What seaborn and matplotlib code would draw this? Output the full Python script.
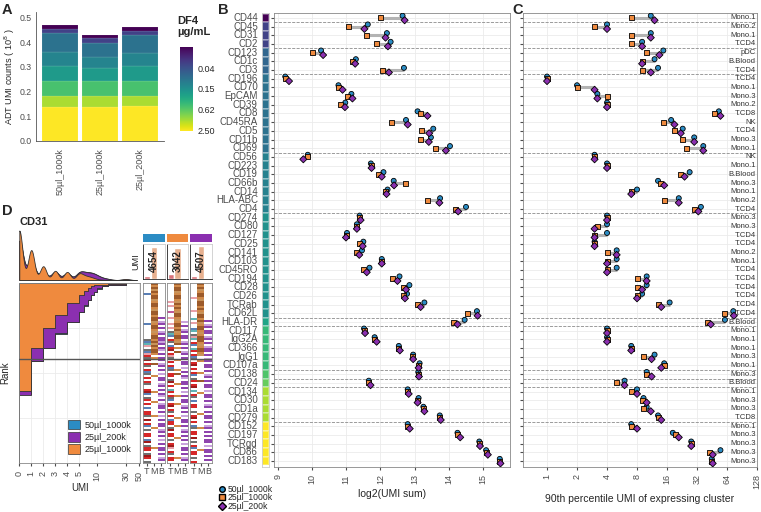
import numpy as np
import pandas as pd
import matplotlib
matplotlib.use("Agg")
import matplotlib.pyplot as plt
import seaborn as sns
from matplotlib.colors import LogNorm, ListedColormap
from matplotlib.lines import Line2D
from matplotlib.patches import Patch
from matplotlib.cm import ScalarMappable

# %%
# data
samples = ['50µl_1000k', '25µl_1000k', '25µl_200k']
sample_colors = {'50µl_1000k': '#2b8cc4', '25µl_1000k': '#ef8a3e', '25µl_200k': '#8b2fb0'}
sample_markers = {'50µl_1000k': 'o', '25µl_1000k': 's', '25µl_200k': 'D'}

# A: ADT UMI counts (1e8) per DF4 concentration, bottom to top
conc_levels = [2.5, 1.25, 0.5, 0.2, 0.12, 0.08, 0.03, 0.01]
umi_50ul_1000k = [0.138, 0.043, 0.062, 0.060, 0.055, 0.077, 0.017, 0.016]
umi_25ul_1000k = [0.138, 0.043, 0.062, 0.050, 0.045, 0.057, 0.020, 0.013]
umi_25ul_200k = [0.140, 0.041, 0.062, 0.058, 0.055, 0.072, 0.017, 0.017]

# B / C
markers = ['CD44', 'CD45', 'CD31', 'CD2', 'CD123', 'CD1c', 'CD3', 'CD196', 'CD70', 'EpCAM',
           'CD39', 'CD8', 'CD45RA', 'CD5', 'CD11b', 'CD69', 'CD56', 'CD223', 'CD19', 'CD66b',
           'CD14', 'HLA-ABC', 'CD4', 'CD274', 'CD80', 'CD127', 'CD25', 'CD141', 'CD103', 'CD45RO',
           'CD194', 'CD28', 'CD26', 'TCRab', 'CD62L', 'HLA-DR', 'CD117', 'IgG2A', 'CD366', 'IgG1',
           'CD107a', 'CD138', 'CD24', 'CD134', 'CD30', 'CD1a', 'CD279', 'CD152', 'CD197', 'TCRgd',
           'CD86', 'CD183']
marker_conc = [0.01, 0.03, 0.03, 0.03, 0.06, 0.06, 0.06, 0.08, 0.08, 0.08,
               0.08, 0.08, 0.08, 0.08, 0.08, 0.08, 0.11, 0.11, 0.11, 0.11,
               0.11, 0.11, 0.11, 0.16, 0.16, 0.16, 0.16, 0.16, 0.16, 0.16,
               0.16, 0.16, 0.16, 0.16, 0.16, 0.25, 0.4, 0.4, 0.4, 0.4,
               0.4, 0.55, 0.7, 1.25, 1.25, 1.25, 1.25, 2.5, 2.5, 2.5,
               2.5, 2.5]
log2_sum_50ul_1000k = [12.65, 11.63, 12.19, 12.30, 10.26, 11.28, 12.69, 9.21, 10.77, 11.15,
                       10.97, 13.09, 12.75, 13.55, 13.48, 14.04, 9.87, 11.72, 12.09, 12.39,
                       12.21, 13.75, 14.51, 11.39, 11.31, 11.02, 11.50, 11.46, 12.04, 11.68,
                       12.56, 12.85, 12.78, 13.29, 14.83, 14.47, 11.52, 11.83, 12.54, 12.96,
                       13.15, 13.11, 11.66, 12.80, 13.12, 13.26, 13.74, 12.80, 14.26, 14.90,
                       15.10, 15.50]
log2_sum_25ul_1000k = [12.01, 11.06, 11.58, 11.89, 10.01, 11.17, 12.05, 9.21, 10.76, 11.03,
                       10.84, 13.17, 12.32, 13.20, 13.18, 13.62, 9.87, 11.73, 11.93, 12.74,
                       12.15, 13.38, 14.21, 11.38, 11.30, 11.01, 11.39, 11.31, 12.03, 11.50,
                       12.36, 12.69, 12.68, 13.10, 14.56, 14.15, 11.53, 11.83, 12.54, 12.93,
                       13.11, 13.12, 11.66, 12.79, 13.08, 13.26, 13.74, 12.79, 14.26, 14.90,
                       15.10, 15.48]
log2_sum_25ul_200k = [12.71, 11.53, 12.15, 12.22, 10.32, 11.26, 12.25, 9.32, 10.89, 11.18,
                      10.96, 13.38, 12.80, 13.43, 13.42, 13.92, 9.74, 11.74, 12.04, 12.40,
                      12.18, 13.73, 14.28, 11.42, 11.31, 10.99, 11.48, 11.38, 12.04, 11.60,
                      12.50, 12.75, 12.72, 13.18, 14.85, 14.26, 11.55, 11.89, 12.57, 12.96,
                      13.12, 13.13, 11.71, 12.83, 13.09, 13.29, 13.77, 12.86, 14.34, 14.92,
                      15.15, 15.52]
p90_50ul_1000k = [11, 4, 11, 9, 14.7, 12, 13, 1, 2, 3.2,
                  4, 53, 17.6, 23, 30, 37, 3, 4, 27, 13,
                  8, 21, 35, 4, 4, 4, 3, 5, 5, 5,
                  10, 10, 9, 17, 74, 61, 4, 4, 7, 12,
                  15, 10, 6, 8, 9.3, 10, 13, 7, 18.3, 28,
                  55, 45]
p90_25ul_1000k = [7, 3, 7, 7, 10, 9, 9, 1, 2, 4,
                  4, 48, 14.7, 19, 23, 25, 3, 4, 22, 13.7,
                  7, 15, 30, 4, 3.2, 3, 3, 4, 4, 4,
                  8, 8, 8, 13, 60, 41, 4, 4, 7, 9.3,
                  15, 10, 5, 7, 9, 9.3, 13, 7, 19.6, 28,
                  43, 45]
p90_25ul_200k = [12, 4, 11, 9, 13.4, 9, 11, 1, 3, 3.2,
                 4, 55, 19, 22, 30, 37, 3, 4, 24, 15,
                 7, 21, 33, 4, 3, 3, 3, 5, 4, 4,
                 10, 9, 8, 14, 75, 44, 4, 4, 7, 11.2,
                 14, 11.2, 6, 8, 10, 11, 14, 8, 21, 28,
                 46, 46]
clusters = ['Mono.1', 'Mono.2', 'Mono.1', 'T.CD4', 'pDC', 'B.Blood', 'T.CD4', 'T.CD4', 'Mono.1', 'Mono.3',
            'Mono.2', 'T.CD8', 'NK', 'T.CD4', 'Mono.3', 'Mono.1', 'NK', 'Mono.1', 'B.Blood', 'Mono.3',
            'Mono.1', 'Mono.2', 'T.CD4', 'Mono.3', 'Mono.3', 'T.CD4', 'T.CD4', 'Mono.2', 'Mono.1', 'T.CD4',
            'T.CD4', 'T.CD4', 'T.CD4', 'T.CD4', 'T.CD4', 'B.Blood', 'Mono.1', 'Mono.1', 'Mono.1', 'Mono.3',
            'Mono.1', 'Mono.3', 'B.Blood', 'Mono.1', 'Mono.3', 'Mono.3', 'T.CD8', 'Mono.1', 'Mono.3', 'Mono.3',
            'Mono.3', 'Mono.3']

# D: CD31, number of cells with UMI >= step
umi_steps = [1, 2, 3, 4, 5, 6, 7, 8, 9, 10, 12, 15, 20]
cells_50ul_1000k = [618, 432, 358, 282, 218, 160, 125, 95, 66, 48, 29, 15, 7]
cells_25ul_1000k = [602, 361, 250, 176, 111, 65, 43, 28, 17, 12, 9, 7, 6]
cells_25ul_200k = [624, 432, 358, 278, 213, 158, 120, 93, 65, 47, 28, 15, 7]
max_umi = 30
n_cells = 1000
expr_rank = 420
total_umi = [4654, 3042, 4507]
lineages = ['T', 'M', 'B']
share_50ul_1000k = [0.10, 0.92, 0.02]
share_25ul_1000k = [0.14, 0.90, 0.03]
share_25ul_200k = [0.09, 0.94, 0.03]
# per cell (ranked) cluster code for each lineage column, '.' = not that lineage
cells_hm_50ul_1000k = [
    ".....b..............b.......gbcp.gbprgR.rg.rbg.r.rg..rRb.gr.r.b.rrg.R.rb.g.rr.bR.grr.gRr.g",
    "nonynonnyonnoynnonnyonnoyonnonynonno.o..n.....o.......o....o......o.....o.........o.......",
    ".................u.lu.u.lu.uulu.ul.u.uu.lu.u.l.uu.lu.u.ul.u.luu.u.l.u.uu.lu.u.l.u.uu.u.lu",
]
cells_hm_25ul_1000k = [
    ".........p.p..m..p..p.p.gcb.rg.brR.rpg.r.rbg.rr.gR.r.cr.rgb.rR.rg.r.brr.gR.rr.g.rRp.rg.rr.",
    "nonnyonnoynonoynnoyonnonyonnoyn.o.n...o....o.n....o.....o...o......o...o.....o.........o..",
    "...................l.u.lu.uu.lu.u.lu.u.uu.l.u.ul.uu.u.l.u.uu.lu.u.l.uu.u.lu.u.u.l.uu.u.lu",
]
cells_hm_25ul_200k = [
    ".......p.....p...c.p..bc.gpc.rb.cr.rbg.rR.r.rb.gr.rR.c.rg.b.rr.g.rR.r.bg.rr.R.g.rb.rr.g.r",
    "nonyonnoynnonoynnonyonnoyonnnoyonnoy..o.....o...n.....o.........o......o..........o......",
    "..................u.lu.uu.lu.u.luu.u.lu.uu.u.lu.u.uu.l.uu.u.lu.u.uu.u.lu.u.u.uu.l.uu.u.u.",
]
hm_palette = {'r': '#d62728', 'R': '#9e1b1b', 'p': '#e8a0a8', 'g': '#707070', 'b': '#5a7fb5',
              'c': '#5fb3b3', 'm': '#c05a9a', 'n': '#9c5a2a', 'o': '#d08a4a', 'y': '#c8935a',
              'u': '#8e44ad', 'l': '#c9a3dc'}

# %%
sns.set_style("white")
plt.rcParams['font.family'] = ['Liberation Sans', 'DejaVu Sans']
plt.rcParams['axes.linewidth'] = 0.6

W, H = 761, 512


def box(x0, y0, x1, y1):
    return [x0 / W, 1 - y1 / H, (x1 - x0) / W, (y1 - y0) / H]


fig = plt.figure(figsize=(W / 100, H / 100), dpi=100)
tick_grey = '#4d4d4d'
frame_grey = '#888888'
cmap = plt.get_cmap('viridis')
norm = LogNorm(vmin=0.01, vmax=2.5)

# ---- A: stacked bars
axA = fig.add_axes(box(36, 12.4, 164, 140.7))
stack = pd.DataFrame({'50µl_1000k': umi_50ul_1000k, '25µl_1000k': umi_25ul_1000k,
                      '25µl_200k': umi_25ul_200k}, index=conc_levels)
bottom = np.zeros(len(samples))
for lvl, row in stack.iterrows():
    axA.bar(samples, row.values, bottom=bottom, width=0.9, color=cmap(norm(lvl)),
            edgecolor=(1, 1, 1, 0.25), linewidth=0.3)
    bottom += row.values
axA.set_xlim(-0.6, 2.6)
axA.set_ylim(0, 0.52)
axA.set_yticks([0, 0.1, 0.2, 0.3, 0.4, 0.5])
axA.set_ylabel('ADT UMI counts ( 10$^8$ )', fontsize=6.6)
axA.yaxis.set_label_coords(-0.15, 0.5)
axA.tick_params(axis='x', rotation=90, labelsize=6.5, colors=tick_grey, length=2)
axA.tick_params(axis='y', labelsize=6.3, colors=tick_grey, length=2, pad=1)
for side in ['top', 'right']:
    axA.spines[side].set_visible(False)
for side in ['left', 'bottom']:
    axA.spines[side].set_color('#555555')

axCb = fig.add_axes(box(180, 47, 193, 131))
cb = fig.colorbar(ScalarMappable(norm=norm, cmap=cmap), cax=axCb)
cb.minorticks_off()
cb.set_ticks([0.04, 0.15, 0.62, 2.5])
cb.set_ticklabels(['0.04', '0.15', '0.62', '2.50'])
cb.outline.set_visible(False)
axCb.invert_yaxis()
axCb.tick_params(labelsize=6.5, length=3, color='white', direction='in', pad=3)
fig.text(177 / W, 1 - 16 / H, 'DF4\nµg/mL', fontsize=8, fontweight='bold', va='top', linespacing=1.1)

# ---- B / C
rows = np.arange(len(markers))
dodge = {'50µl_1000k': -0.25, '25µl_1000k': 0.0, '25µl_200k': 0.27}
sums = {'50µl_1000k': log2_sum_50ul_1000k, '25µl_1000k': log2_sum_25ul_1000k,
        '25µl_200k': log2_sum_25ul_200k}
p90 = {'50µl_1000k': p90_50ul_1000k, '25µl_1000k': p90_25ul_1000k, '25µl_200k': p90_25ul_200k}
df = pd.concat([pd.DataFrame({'marker': markers, 'row': rows, 'sample': s,
                              'log2_sum': sums[s], 'p90': p90[s]}) for s in samples])
df['y'] = df['row'] + df['sample'].map(dodge)
rng = df.groupby('row').agg(smin=('log2_sum', 'min'), smax=('log2_sum', 'max'),
                            pmin=('p90', 'min'), pmax=('p90', 'max'))

ylims = (51.65, -0.6)
breaks = [i + 0.5 for i in range(len(markers) - 1) if marker_conc[i] != marker_conc[i + 1]]

axS = fig.add_axes(box(262, 12.7, 269, 466.7))
sns.heatmap(np.array(marker_conc)[:, None], cmap='viridis', norm=norm, cbar=False, ax=axS,
            xticklabels=False, yticklabels=markers, linewidths=0.2, linecolor=(1, 1, 1, 0.3))
axS.set_ylim(ylims[0] + 0.5, ylims[1] + 0.5)
axS.tick_params(axis='y', labelsize=7, colors=tick_grey, length=2, pad=1, rotation=0)
axS.set_ylabel('')
for s in axS.spines.values():
    s.set_visible(True)
    s.set_color('#cccccc')

axB = fig.add_axes(box(274, 12.7, 510, 466.7))
axC = fig.add_axes(box(522.7, 12.7, 757, 466.7))
for ax, col, lo, hi in [(axB, 'log2_sum', 'smin', 'smax'), (axC, 'p90', 'pmin', 'pmax')]:
    ax.hlines(rng.index, rng[lo], rng[hi], color='#b3b3b3', linewidth=2.2, zorder=2)
    sns.scatterplot(data=df, x=col, y='y', hue='sample', style='sample', palette=sample_colors,
                    markers=sample_markers, s=13, edgecolor='black', linewidth=0.6,
                    legend=False, ax=ax, zorder=3)
    for b in breaks:
        ax.axhline(b, color='#8c8c8c', linestyle='--', linewidth=0.6, zorder=1)
    ax.set_ylim(*ylims)
    ax.set_yticks(rows)
    ax.set_yticklabels([])
    ax.grid(True, color='#ebebeb', linewidth=0.6)
    ax.set_axisbelow(True)
    ax.tick_params(axis='y', length=2, colors=tick_grey, left=True)
    ax.tick_params(axis='x', length=2, colors=tick_grey, labelsize=6.5, rotation=90, bottom=True)
    ax.set_ylabel('')
    for s in ax.spines.values():
        s.set_color(frame_grey)

axB.set_xlim(8.88, 15.8)
axB.set_xticks([9, 10, 11, 12, 13, 14, 15])
axB.set_xlabel('log2(UMI sum)', fontsize=7.5, labelpad=3)

axC.set_xscale('log', base=2)
axC.set_xlim(0.57, 128)
axC.set_xticks([1, 2, 4, 8, 16, 32, 64, 128])
axC.set_xticklabels(['1', '2', '4', '8', '16', '32', '64', '128'])
axC.minorticks_off()
axC.set_xlabel('90th percentile UMI of expressing cluster', fontsize=7.5, labelpad=3)
for r, name in zip(rows, clusters):
    axC.text(0.995, r, name, transform=axC.get_yaxis_transform(), ha='right', va='center',
             fontsize=5.5, color='#333333')

legB = [Line2D([], [], linestyle='', marker=sample_markers[s], markerfacecolor=sample_colors[s],
               markeredgecolor='black', markersize=4, label=s) for s in samples]
fig.legend(handles=legB, loc='upper left', bbox_to_anchor=(213 / W, 1 - 481 / H), frameon=False,
           fontsize=6.2, handletextpad=0.2, labelspacing=-0.1, borderpad=0, handlelength=1)

# ---- D
def fwd(x):
    x = np.asarray(x, dtype=float)
    return np.where(x <= 5, x, 5 + 5 * np.log10(np.maximum(x, 5) / 5))


def inv(y):
    y = np.asarray(y, dtype=float)
    return np.where(y <= 5, y, 5 * 10 ** ((np.minimum(y, 30) - 5) / 5))


cells = {'50µl_1000k': cells_50ul_1000k, '25µl_1000k': cells_25ul_1000k, '25µl_200k': cells_25ul_200k}
draw_order = ['50µl_1000k', '25µl_200k', '25µl_1000k']
edge = '#333333'

axDens = fig.add_axes(box(19.3, 228, 140, 280))
for s in draw_order:
    c = cells[s]
    vals = [0] + umi_steps[:-1] + [max_umi]
    counts = [n_cells - c[0]] + [c[i] - c[i + 1] for i in range(len(c) - 1)] + [c[-1]]
    sns.kdeplot(x=fwd(vals), weights=counts, fill=True, color=sample_colors[s], alpha=1,
                bw_method=0.12, clip=(0, 10.1), edgecolor=edge, linewidth=0.6, ax=axDens)
axDens.set_xlim(0, float(fwd(52)))
axDens.set_ylim(0, None)
axDens.axis('off')

axR = fig.add_axes(box(19.3, 283.3, 140, 463))
for s in draw_order:
    c = cells[s]
    y = [0] + c[::-1] + [n_cells]
    x = [max_umi] + umi_steps[::-1][1:] + [0] + [0]
    axR.fill_betweenx(y, 0, x, step='post', facecolor=sample_colors[s], edgecolor=edge,
                      linewidth=0.6, zorder=2)
axR.set_xscale('function', functions=(fwd, inv))
axR.set_xlim(0, 52)
axR.set_ylim(n_cells, 0)
axR.set_xticks([0, 1, 2, 3, 4, 5, 10, 30, 50])
axR.set_xticklabels(['0', '1', '2', '3', '4', '5', '10', '30', '50'])
axR.minorticks_off()
axR.set_yticks([0, 250, 500, 750, 1000])
axR.set_yticklabels([])
axR.tick_params(axis='y', length=0)
axR.tick_params(axis='x', length=2, colors=tick_grey, labelsize=6.5, rotation=90, bottom=True)
axR.grid(True, color='#ebebeb', linewidth=0.6)
axR.set_axisbelow(True)
axR.axhline(expr_rank, color='#555555', linewidth=1.0, zorder=3)
axR.set_xlabel('UMI', fontsize=7, labelpad=2)
axR.set_ylabel('Rank', fontsize=7, labelpad=3)
for s in axR.spines.values():
    s.set_color(frame_grey)
axR.legend(handles=[Patch(facecolor=sample_colors[s], edgecolor=edge, linewidth=0.5, label=s)
                    for s in draw_order],
           loc='lower right', frameon=False, fontsize=6.5, handlelength=1.3, handleheight=1.3,
           handletextpad=0.5, labelspacing=0.25, borderaxespad=0.6)

codes = list(hm_palette.keys())
hm_cmap = ListedColormap([hm_palette[k] for k in codes])
hm_data = {'50µl_1000k': cells_hm_50ul_1000k, '25µl_1000k': cells_hm_25ul_1000k,
           '25µl_200k': cells_hm_25ul_200k}
shares = {'50µl_1000k': share_50ul_1000k, '25µl_1000k': share_25ul_1000k,
          '25µl_200k': share_25ul_200k}
lineage_colors = ['#d9737a', '#e7b08f', '#b27ac9']
panel_x = [(143.3, 165), (166.7, 188.3), (190, 211.7)]
for (x0, x1), s, tot in zip(panel_x, samples, total_umi):
    axH = fig.add_axes(box(x0, 234, x1, 242))
    axH.set_facecolor(sample_colors[s])
    axH.set_xticks([])
    axH.set_yticks([])
    for sp in axH.spines.values():
        sp.set_visible(False)

    axU = fig.add_axes(box(x0, 244, x1, 279))
    axU.bar(lineages, shares[s], color=lineage_colors, width=0.9)
    axU.set_ylim(0, 1)
    axU.set_xlim(-0.6, 2.6)
    axU.text(1, 0.5, str(tot), rotation=90, ha='center', va='center', fontsize=7,
             fontweight='bold', color='#222222')
    axU.set_xticks([])
    axU.set_yticks([])
    for sp in axU.spines.values():
        sp.set_color('#222222')
    axU.spines['top'].set_color('#cccccc')
    axU.spines['right'].set_color('#cccccc')

    strs = hm_data[s]
    L = max(len(t) for t in strs)
    arr = np.full((L, 3), np.nan)
    for j, t in enumerate(strs):
        for i, ch in enumerate(t.ljust(L, '.')):
            if ch != '.':
                arr[i, j] = codes.index(ch)
    axM = fig.add_axes(box(x0, 283.3, x1, 463))
    sns.heatmap(arr, mask=np.isnan(arr), cmap=hm_cmap, vmin=-0.5, vmax=len(codes) - 0.5,
                cbar=False, xticklabels=lineages, yticklabels=False, ax=axM)
    axM.axhline(expr_rank / n_cells * L, color='#555555', linewidth=1.0)
    axM.tick_params(axis='x', length=2, labelsize=6.5, colors=tick_grey, rotation=0, bottom=True, pad=1)
    for sp in axM.spines.values():
        sp.set_visible(True)
        sp.set_color(frame_grey)

fig.text(136 / W, 1 - 262 / H, 'UMI', rotation=90, fontsize=6.5, ha='center', va='center')
fig.text(20 / W, 1 - 222 / H, 'CD31', fontsize=8, fontweight='bold', va='center')

# panel letters
for letter, (x, y) in {'A': (2, 10), 'B': (218, 10), 'C': (512, 10), 'D': (2, 211)}.items():
    fig.text(x / W, 1 - y / H, letter, fontsize=10.5, fontweight='bold', va='center')

fig.savefig('out.png', dpi=100)
